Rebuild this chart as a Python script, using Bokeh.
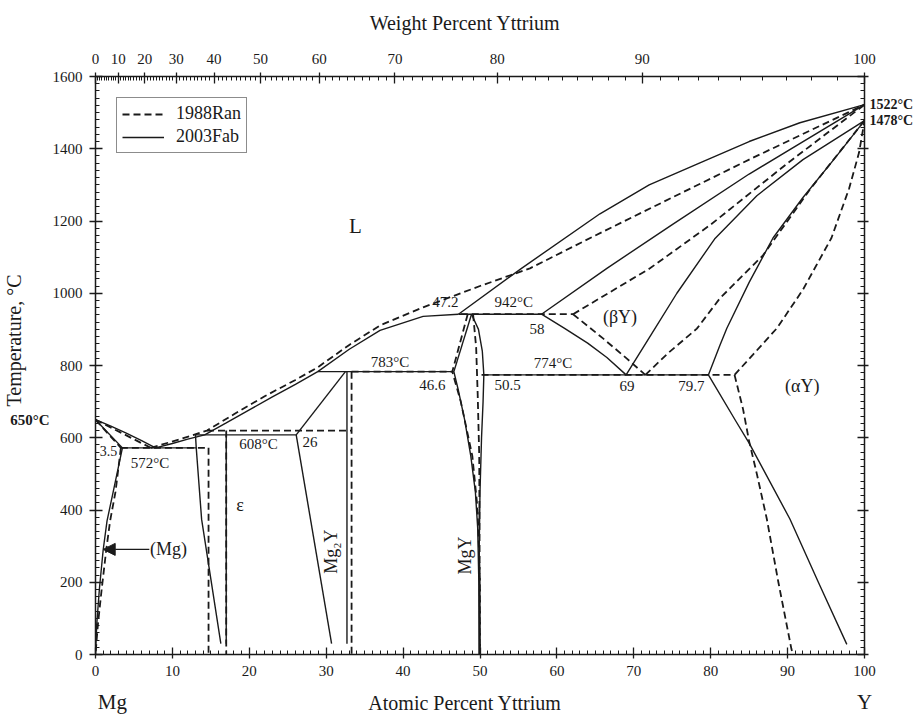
import numpy as np
from bokeh.plotting import figure
from bokeh.models import (LinearAxis, FixedTicker, SingleIntervalTicker, Range1d,
                          Arrow, NormalHead, Legend, LegendItem, CustomJSTickFormatter)
from bokeh.embed import file_html
from bokeh.resources import INLINE
from bokeh.core.properties import value

FONT = "Liberation Serif"
NB = "\u00a0"

# ---------------- data: 2003Fab (solid) ----------------
liq_mg_x = [0, 2, 4, 6, 7.8]
liq_mg_T = [650, 632, 613, 592, 572]
sol_mg_x = [0, 3.5]
sol_mg_T = [650, 572]
solv_mg_x = [3.5, 2.3, 1.5, 1.0, 0.5, 0.15, 0]
solv_mg_T = [572, 450, 370, 290, 180, 80, 0]
eut572_x = [3.5, 13.1]
eut572_T = [572, 572]
liq_mid_x = [7.8, 10, 12, 14.2, 17, 20, 23, 26, 28.9, 33, 37, 42.6, 47.2]
liq_mid_T = [572, 584, 596, 608, 641, 677, 713, 748, 783, 845, 897, 936, 942]
eps_left_x = [13.0, 13.1, 13.8, 16.3]
eps_left_T = [608, 572, 374, 30]
eps_right_x = [17.0, 17.0]
eps_right_T = [608, 30]
per608_x = [13.0, 26.1]
per608_T = [608, 608]
mg2y_up_x = [26.1, 32.5]
mg2y_up_T = [608, 783]
mg2y_low_x = [26.1, 30.7]
mg2y_low_T = [608, 30]
mg2y_right_x = [32.7, 32.7]
mg2y_right_T = [783, 30]
per783_x = [28.9, 46.6]
per783_T = [783, 783]
mgy_ul_x = [46.6, 48.9]
mgy_ul_T = [783, 942]
mgy_r_x = [48.9, 49.8, 50.3, 50.5, 50.4, 50.2, 50.0, 49.9, 49.9]
mgy_r_T = [942, 900, 840, 774, 700, 600, 450, 300, 0]
mgy_ll_x = [46.6, 47.2, 48.0, 48.8, 49.4, 49.7, 49.85, 49.9]
mgy_ll_T = [783, 730, 650, 550, 450, 350, 200, 0]
per942_x = [47.2, 58.0]
per942_T = [942, 942]
liq_y_x = [47.2, 55.4, 65.6, 72, 78.6, 85, 91.6, 100]
liq_y_T = [942, 1069, 1220, 1300, 1361, 1420, 1472, 1522]
sol_by_x = [58, 66.5, 75, 85, 100]
sol_by_T = [942, 1069, 1190, 1330, 1522]
by_left_x = [58, 61, 64, 66.5, 69]
by_left_T = [942, 903, 862, 822, 774]
eutd774_x = [50.5, 79.7]
eutd774_T = [774, 774]
by_right_x = [69, 72.3, 75.6, 80.5, 86, 92, 100]
by_right_T = [774, 887, 1000, 1150, 1270, 1370, 1478]
ay_up_x = [79.7, 81.2, 82.1, 85, 88.1, 92, 96, 100]
ay_up_T = [774, 856, 903, 1030, 1153, 1265, 1370, 1478]
ay_low_x = [79.7, 83.3, 85.0, 86.8, 90.3, 94, 97.7]
ay_low_T = [774, 645, 585, 514, 375, 200, 28]

# ---------------- data: 1988Ran (dashed) ----------------
d_liq_mg_x = [0, 3.5, 7.2]
d_liq_mg_T = [650, 612, 572]
d_sol_mg_x = [0, 3.3]
d_sol_mg_T = [650, 572]
d_solv_mg_x = [3.3, 2.6, 1.9, 1.4, 0.8, 0.3, 0]
d_solv_mg_T = [572, 450, 370, 290, 180, 80, 0]
d_eut_x = [3.3, 14.7]
d_eut_T = [572, 572]
d_liq_x = [7.2, 11, 14.5, 18, 22, 26, 28.9, 33, 37, 42.6, 50, 56.5, 65, 75, 85, 100]
d_liq_T = [572, 596, 620, 665, 715, 760, 795, 857, 911, 961, 1020, 1069, 1160, 1265, 1370, 1522]
d_eps1_x = [14.7, 14.7]
d_eps1_T = [572, 0]
d_eps2_x = [17.0, 17.0]
d_eps2_T = [620, 0]
d_per_x = [14.5, 33.3]
d_per_T = [620, 620]
d_mg2y_x = [33.3, 33.3]
d_mg2y_T = [783, 0]
d_783_x = [33.3, 46.4]
d_783_T = [783, 783]
d_mgy_l_x = [48.4, 46.4, 47.5, 49.0, 49.7, 50.0, 50.0]
d_mgy_l_T = [942, 783, 700, 550, 400, 200, 0]
d_mgy_r_x = [49.1, 49.5, 49.7, 49.9, 50.0]
d_mgy_r_T = [942, 850, 720, 550, 0]
d_942_x = [47.5, 62.1]
d_942_T = [942, 942]
d_sol_by_x = [62.1, 72.1, 80, 90, 100]
d_sol_by_T = [942, 1069, 1190, 1360, 1522]
d_by_left_x = [62.1, 66, 69.1, 71.5]
d_by_left_T = [942, 875, 819, 774]
d_774_x = [50.2, 83.1]
d_774_T = [774, 774]
d_by_right_x = [71.5, 74.5, 78.2, 81.2, 86.8, 93, 100]
d_by_right_T = [774, 835, 902, 986, 1105, 1290, 1478]
d_ay_up_x = [83.1, 85.5, 88.6, 92, 95.7, 98, 99.3, 100]
d_ay_up_T = [774, 830, 903, 1010, 1153, 1290, 1390, 1478]
d_ay_low_x = [83.1, 84.2, 85.0, 86.0, 87.3, 88.8, 90.5, 90.7]
d_ay_low_T = [774, 680, 590, 500, 375, 200, 15, 0]

# ---------------- labels ----------------
num_text = ["47.2", "942°C", "58", "783°C", "774°C", "46.6", "50.5",
            "69", "79.7", "572°C", "608°C", "26"]
num_x = [45.5, 54.4, 57.4, 38.3, 59.5, 43.8, 53.6, 69.1, 77.5, 7.1, 21.2, 27.9]
num_T = [975, 977, 902, 811, 808, 747, 747, 742, 742, 531, 584, 587]
small_text = ["3.5"]
small_x = [1.7]
small_T = [562]
phase_text = ["(βY)", "(αY)", "ε", "(Mg)"]
phase_x = [68.2, 91.9, 18.8, 9.5]
phase_T = [933, 742, 415, 291]
liquid_text = ["L"]
liquid_x = [33.8]
liquid_T = [1185]
rot_text = ["Mg₂Y", "MgY"]
rot_x = [30.6, 48.1]
rot_T = [285, 274]
pure_T = [1478, 1522]          # Y transformation / melting, right edge
mg_melt_T = [650]              # Mg melting, left edge
end_x = [2.2, 100]             # element names under the axis

wt_major = [0, 10, 20, 30, 40, 50, 60, 70, 80, 90, 100]
M_Y, M_MG = 88.906, 24.305


def wt_to_at(w):
    if w >= 100:
        return 100.0
    return (w / M_Y) / (w / M_Y + (100 - w) / M_MG) * 100.0


solid = [(liq_mg_x, liq_mg_T), (sol_mg_x, sol_mg_T), (solv_mg_x, solv_mg_T),
         (eut572_x, eut572_T), (liq_mid_x, liq_mid_T), (eps_left_x, eps_left_T),
         (eps_right_x, eps_right_T), (per608_x, per608_T), (mg2y_up_x, mg2y_up_T),
         (mg2y_low_x, mg2y_low_T), (mg2y_right_x, mg2y_right_T), (per783_x, per783_T),
         (mgy_ul_x, mgy_ul_T), (mgy_r_x, mgy_r_T), (mgy_ll_x, mgy_ll_T),
         (per942_x, per942_T), (liq_y_x, liq_y_T), (sol_by_x, sol_by_T),
         (by_left_x, by_left_T), (eutd774_x, eutd774_T), (by_right_x, by_right_T),
         (ay_up_x, ay_up_T), (ay_low_x, ay_low_T)]
dashed = [(d_liq_mg_x, d_liq_mg_T), (d_sol_mg_x, d_sol_mg_T), (d_solv_mg_x, d_solv_mg_T),
          (d_eut_x, d_eut_T), (d_liq_x, d_liq_T), (d_eps1_x, d_eps1_T), (d_eps2_x, d_eps2_T),
          (d_per_x, d_per_T), (d_mg2y_x, d_mg2y_T), (d_783_x, d_783_T),
          (d_mgy_l_x, d_mgy_l_T), (d_mgy_r_x, d_mgy_r_T), (d_942_x, d_942_T),
          (d_sol_by_x, d_sol_by_T), (d_by_left_x, d_by_left_T), (d_774_x, d_774_T),
          (d_by_right_x, d_by_right_T), (d_ay_up_x, d_ay_up_T), (d_ay_low_x, d_ay_low_T)]

INK = "#1a1a1a"

p = figure(width=916, height=716, output_backend="svg", toolbar_location=None,
           x_range=Range1d(0, 100), y_range=Range1d(0, 1600),
           x_axis_location="below", y_axis_location="left",
           min_border_left=94, min_border_right=52, min_border_top=76, min_border_bottom=62)
p.outline_line_color = None
p.grid.visible = False
p.background_fill_color = "white"
p.border_fill_color = "white"


def style_axis(ax):
    ax.axis_line_color = INK
    ax.axis_line_width = 1.5
    ax.major_tick_line_color = INK
    ax.minor_tick_line_color = INK
    ax.major_tick_line_width = 1.3
    ax.minor_tick_line_width = 1.0
    ax.major_tick_in = 7
    ax.major_tick_out = 4
    ax.minor_tick_in = 4
    ax.minor_tick_out = 0
    ax.major_label_text_font = FONT
    ax.major_label_text_font_size = "15px"
    ax.major_label_text_color = INK
    ax.axis_label_text_font = FONT
    ax.axis_label_text_font_style = "normal"
    ax.axis_label_text_font_size = "20px"
    ax.axis_label_text_color = INK


def label_only_axis(ax):
    ax.axis_line_color = None
    ax.major_tick_line_color = None
    ax.minor_tick_line_color = None
    ax.major_tick_in = 0
    ax.major_tick_out = 0
    ax.minor_tick_in = 0
    ax.minor_tick_out = 0
    ax.major_label_text_font = FONT
    ax.major_label_text_color = INK
    ax.axis_label_text_font = FONT
    ax.axis_label_text_font_style = "normal"
    ax.axis_label_text_font_size = "20px"
    ax.axis_label_text_color = INK


# bottom: atomic percent
xa = p.xaxis[0]
xa.ticker = SingleIntervalTicker(interval=10, num_minor_ticks=10)
style_axis(xa)
xa.major_label_standoff = 7

# bottom outer: element names + axis title on one line
xb = LinearAxis(axis_label="Atomic Percent Yttrium" + NB * 6)
xb.ticker = FixedTicker(ticks=end_x)
xb.formatter = CustomJSTickFormatter(code="return tick < 50 ? 'Mg' : 'Y';")
label_only_axis(xb)
xb.major_label_text_font_size = "21px"
xb.major_label_standoff = 11
xb.axis_label_standoff = -25
p.add_layout(xb, "below")

# left: temperature
ya = p.yaxis[0]
ya.ticker = SingleIntervalTicker(interval=200, num_minor_ticks=10)
style_axis(ya)
ya.major_tick_out = 6
ya.major_label_standoff = 7

# left outer: Mg melting point + axis title
yb = LinearAxis(axis_label=NB * 10 + "Temperature, °C")
yb.ticker = FixedTicker(ticks=mg_melt_T)
yb.formatter = CustomJSTickFormatter(code="return tick.toFixed(0) + '°C';")
label_only_axis(yb)
yb.major_label_text_font_size = "15px"
yb.major_label_text_font_style = "bold"
yb.major_label_standoff = 0
yb.axis_label_standoff = -18
p.add_layout(yb, "left")

# top: weight percent
top = LinearAxis(axis_label="Weight Percent Yttrium" + NB * 6)
top.ticker = FixedTicker(ticks=[wt_to_at(w) for w in wt_major],
                         minor_ticks=[wt_to_at(w) for w in range(0, 101) if w % 10 != 0])
top.formatter = CustomJSTickFormatter(code="""
    const a = tick;
    const w = a*88.906/(a*88.906 + (100-a)*24.305)*100;
    return Math.round(w).toString();
""")
style_axis(top)
top.major_label_standoff = 9
top.axis_label_standoff = 17
p.add_layout(top, "above")

# right: ticks only (no tick labels drawn)
right = LinearAxis()
right.ticker = SingleIntervalTicker(interval=200, num_minor_ticks=10)
style_axis(right)
right.major_label_text_color = None
right.major_label_text_font_size = "0px"
right.major_label_standoff = 0
p.add_layout(right, "right")

# right outer: Y melting / transformation temperatures
rb = LinearAxis()
rb.ticker = FixedTicker(ticks=pure_T)
rb.formatter = CustomJSTickFormatter(code="return tick.toFixed(0) + '°C';")
label_only_axis(rb)
rb.major_label_text_font_size = "14px"
rb.major_label_text_font_style = "bold"
rb.major_label_standoff = 1
p.add_layout(rb, "right")

r_dash = p.multi_line(xs=[c[0] for c in dashed], ys=[c[1] for c in dashed],
                      line_color=INK, line_width=1.8, line_dash="7 4")
r_solid = p.multi_line(xs=[c[0] for c in solid], ys=[c[1] for c in solid],
                       line_color=INK, line_width=1.4)

common = dict(text_font=value(FONT), text_align="center", text_baseline="middle",
              text_color=INK)
p.text(x=num_x, y=num_T, text=num_text, text_font_size="15px", **common)
p.text(x=small_x, y=small_T, text=small_text, text_font_size="14px", **common)
p.text(x=phase_x, y=phase_T, text=phase_text, text_font_size="18px", **common)
p.text(x=liquid_x, y=liquid_T, text=liquid_text, text_font_size="21px", **common)
p.text(x=rot_x, y=rot_T, text=rot_text, angle=np.pi / 2, text_font_size="18px", **common)

p.add_layout(Arrow(end=NormalHead(size=12, fill_color=INK, line_color=INK),
                   x_start=7.0, y_start=291, x_end=1.0, y_end=291,
                   line_color=INK, line_width=1.3))

leg = Legend(items=[LegendItem(label="1988Ran", renderers=[r_dash]),
                    LegendItem(label="2003Fab", renderers=[r_solid])],
             location="top_left", margin=21, padding=5, spacing=2,
             glyph_width=42, glyph_height=20, label_standoff=12,
             label_text_font=FONT, label_text_font_size="18px", label_text_color=INK,
             border_line_color=INK, border_line_width=1.2, background_fill_alpha=1.0)
p.add_layout(leg)

open("out.html", "w").write(file_html(p, INLINE))
